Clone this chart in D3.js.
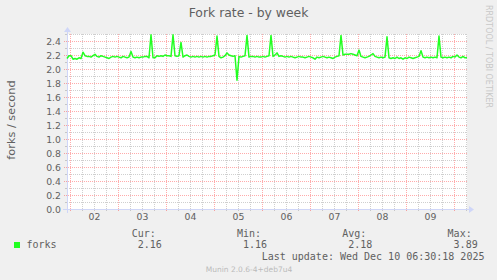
<!DOCTYPE html>
<html>
<head>
<meta charset="utf-8">
<script src="https://cdn.jsdelivr.net/npm/d3@7"></script>
<style>
  body { margin: 0; background: #f0f0f0; }
  svg { display: block; }
</style>
</head>
<body>
<div class="chart"></div>
<script>
// Fork rate - by week (munin / rrdtool look)

const width = 497
const height = 280

// one value per hour, first sample Mon Dec 01 22:30 UTC
const startTime = Date.UTC(2025, 11, 1, 22, 30)
const stepHours = 1
const forks = [
  2.15, 2.19, 2.19, 2.14, 2.15, 2.14, 2.16, 2.15, 2.24, 2.19,
  2.18, 2.18, 2.17, 2.19, 2.21, 2.18, 2.17, 2.19, 2.18, 2.17,
  2.16, 2.15, 2.17, 2.18, 2.17, 2.18, 2.17, 2.16, 2.18, 2.17,
  2.16, 2.17, 2.25, 2.17, 2.16, 2.17, 2.16, 2.17, 2.17, 2.18,
  2.18, 2.16, 2.49, 2.16, 2.16, 2.19, 2.18, 2.19, 2.18, 2.20,
  2.19, 2.19, 2.18, 2.49, 2.19, 2.18, 2.19, 2.38, 2.17, 2.19,
  2.20, 2.18, 2.17, 2.18, 2.17, 2.18, 2.17, 2.18, 2.17, 2.18,
  2.17, 2.18, 2.18, 2.19, 2.20, 2.47, 2.18, 2.16, 2.17, 2.19,
  2.23, 2.20, 2.19, 2.18, 2.19, 1.84, 2.18, 2.17, 2.18, 2.19,
  2.48, 2.17, 2.18, 2.18, 2.17, 2.18, 2.17, 2.17, 2.18, 2.17,
  2.18, 2.19, 2.48, 2.18, 2.20, 2.23, 2.18, 2.19, 2.18, 2.17,
  2.18, 2.17, 2.18, 2.17, 2.16, 2.17, 2.18, 2.17, 2.17, 2.16,
  2.17, 2.18, 2.17, 2.16, 2.14, 2.17, 2.16, 2.17, 2.18, 2.17,
  2.16, 2.17, 2.16, 2.15, 2.17, 2.18, 2.19, 2.48, 2.20, 2.21,
  2.21, 2.21, 2.22, 2.21, 2.20, 2.19, 2.27, 2.18, 2.17, 2.16,
  2.17, 2.18, 2.20, 2.22, 2.18, 2.17, 2.16, 2.17, 2.16, 2.17,
  2.46, 2.16, 2.15, 2.16, 2.15, 2.17, 2.15, 2.16, 2.14, 2.16,
  2.15, 2.17, 2.16, 2.15, 2.16, 2.17, 2.18, 2.26, 2.17, 2.16,
  2.17, 2.16, 2.17, 2.16, 2.17, 2.16, 2.47, 2.17, 2.16, 2.17,
  2.16, 2.17, 2.16, 2.18, 2.17, 2.20, 2.17, 2.16, 2.18, 2.16,
  2.16
]

const yTicks = [0.0, 0.2, 0.4, 0.6, 0.8, 1.0, 1.2, 1.4, 1.6, 1.8, 2.0, 2.2, 2.4]
const statNames = ["Cur:", "Min:", "Avg:", "Max:"]
const statValues = [2.16, 1.16, 2.18, 3.89]
const seriesName = "forks"
const lastUpdate = "Last update: Wed Dec 10 06:30:18 2025"

const hour = 3600 * 1000
const data = forks.map((v, i) => ({ t: new Date(startTime + i * stepHours * hour), v: v }))

const x = d3.scaleUtc()
    .domain([data[0].t, data[data.length - 1].t])
    .range([67, 467])
const y = d3.scaleLinear()
    .domain([0, 2.5])
    .range([209, 34])

const fontColor = "#606060"
const axisColor = "#CFD6F8"
const gridColor = "rgba(128,128,128,0.38)"
const mgridColor = "rgba(255,0,0,0.33)"
const lineColor = "#22ff22"

var svg = d3.select('.chart').append('svg')
    .attr("width", width)
    .attr("height", height)
    .style("font-family", "'DejaVu Sans', sans-serif")

svg.append("rect")
    .attr("width", width)
    .attr("height", height)
    .attr("fill", "#f0f0f0")

// canvas
svg.append("rect")
    .attr("x", x.range()[0])
    .attr("y", y.range()[1])
    .attr("width", x.range()[1] - x.range()[0])
    .attr("height", y.range()[0] - y.range()[1])
    .attr("fill", "#fff")

const grid = svg.append("g").attr("shape-rendering", "crispEdges")

const [x0, x1] = x.range()
const [yb, yt] = y.range()

// minor grid, every 6 hours / every 0.1
const minorX = d3.utcHour.every(6).range(...x.domain()).filter(d => d.getUTCHours() !== 0)
const majorX = d3.utcDay.range(...x.domain())
const minorY = d3.range(1, 26, 2).map(d => d / 10)

grid.selectAll(".vminor")
    .data(minorX)
    .join("line")
    .attr("x1", d => Math.round(x(d)) + 0.5)
    .attr("x2", d => Math.round(x(d)) + 0.5)
    .attr("y1", yt)
    .attr("y2", yb)
    .attr("stroke", gridColor)
    .attr("stroke-dasharray", "1,1")

grid.selectAll(".hminor")
    .data(minorY)
    .join("line")
    .attr("x1", x0)
    .attr("x2", x1)
    .attr("y1", d => Math.round(y(d)) + 0.5)
    .attr("y2", d => Math.round(y(d)) + 0.5)
    .attr("stroke", gridColor)
    .attr("stroke-dasharray", "1,1")

// minor ticks
grid.selectAll(".tminx")
    .data(minorX)
    .join("line")
    .attr("x1", d => Math.round(x(d)) + 0.5)
    .attr("x2", d => Math.round(x(d)) + 0.5)
    .attr("y1", yb)
    .attr("y2", yb + 2)
    .attr("stroke", gridColor)
grid.selectAll(".tminy")
    .data(minorY)
    .join("line")
    .attr("x1", x0 - 2)
    .attr("x2", x0)
    .attr("y1", d => Math.round(y(d)) + 0.5)
    .attr("y2", d => Math.round(y(d)) + 0.5)
    .attr("stroke", gridColor)

// major grid, every day / every 0.2
grid.selectAll(".vmajor")
    .data(majorX)
    .join("line")
    .attr("x1", d => Math.round(x(d)) + 0.5)
    .attr("x2", d => Math.round(x(d)) + 0.5)
    .attr("y1", yt)
    .attr("y2", yb + 3)
    .attr("stroke", mgridColor)
    .attr("stroke-dasharray", "1,1")

grid.selectAll(".hmajor")
    .data(yTicks)
    .join("line")
    .attr("x1", x0 - 3)
    .attr("x2", x1 + 1)
    .attr("y1", d => Math.round(y(d)) + 0.5)
    .attr("y2", d => Math.round(y(d)) + 0.5)
    .attr("stroke", mgridColor)
    .attr("stroke-dasharray", "1,1")

// axes
const axis = svg.append("g")
axis.append("line")
    .attr("x1", x0 - 4).attr("x2", x1 + 4)
    .attr("y1", yb + 0.5).attr("y2", yb + 0.5)
    .attr("stroke", axisColor)
    .attr("shape-rendering", "crispEdges")
axis.append("line")
    .attr("x1", x0 + 0.5).attr("x2", x0 + 0.5)
    .attr("y1", yb + 4).attr("y2", yt - 4)
    .attr("stroke", axisColor)
    .attr("shape-rendering", "crispEdges")
axis.append("path")
    .attr("d", `M${x1 + 2},${yb - 3}L${x1 + 2},${yb + 4}L${x1 + 7},${yb + 0.5}Z`)
    .attr("fill", axisColor)
axis.append("path")
    .attr("d", `M${x0 - 3},${yt - 2}L${x0 + 4},${yt - 2}L${x0 + 0.5},${yt - 7}Z`)
    .attr("fill", axisColor)

// tick labels
svg.append("g")
    .selectAll("text")
    .data(yTicks)
    .join("text")
    .attr("x", x0 - 6)
    .attr("y", d => y(d) + 3.5)
    .attr("text-anchor", "end")
    .attr("font-size", 9.3)
    .attr("fill", fontColor)
    .text(d => d.toFixed(1))

const dayLabels = majorX.map(d => new Date(+d + 12 * hour)).filter(d => d < x.domain()[1])
svg.append("g")
    .selectAll("text")
    .data(dayLabels)
    .join("text")
    .attr("x", d => x(d) + 0.5)
    .attr("y", 220)
    .attr("text-anchor", "middle")
    .attr("font-size", 9.3)
    .attr("fill", fontColor)
    .text(d3.utcFormat("%d"))

// the series
svg.append("path")
    .datum(data)
    .attr("fill", "none")
    .attr("stroke", lineColor)
    .attr("stroke-width", 1.5)
    .attr("stroke-linejoin", "round")
    .attr("d", d3.line().x(d => x(d.t)).y(d => y(d.v)))

// titles
svg.append("text")
    .attr("x", 248.5)
    .attr("y", 17)
    .attr("text-anchor", "middle")
    .attr("font-size", 12.4)
    .attr("fill", fontColor)
    .text("Fork rate - by week")

svg.append("text")
    .attr("transform", "translate(15,120) rotate(-90)")
    .attr("text-anchor", "middle")
    .attr("font-size", 11.3)
    .attr("fill", fontColor)
    .text("forks / second")

svg.append("text")
    .attr("transform", "translate(485.5,5) rotate(90)")
    .attr("font-size", 8)
    .attr("fill", "#c8c8c8")
    .text("RRDTOOL / TOBI OETIKER")

// legend
const mono = "'DejaVu Sans Mono', monospace"
svg.append("rect")
    .attr("x", 14).attr("y", 242)
    .attr("width", 6).attr("height", 6)
    .attr("fill", lineColor)

svg.append("text")
    .attr("x", 26.5).attr("y", 248)
    .attr("font-family", mono).attr("font-size", 10)
    .attr("fill", fontColor)
    .text(seriesName)

const stats = svg.append("g")
    .attr("font-family", mono)
    .attr("font-size", 10)
    .attr("fill", fontColor)

stats.selectAll(".name")
    .data(statNames)
    .join("text")
    .attr("x", (d, i) => 131.7 + i * 105.3)
    .attr("y", 237)
    .text(d => d)

stats.selectAll(".val")
    .data(statValues)
    .join("text")
    .attr("x", (d, i) => 137.7 + i * 105.3)
    .attr("y", 248)
    .text(d => d.toFixed(2))

svg.append("text")
    .attr("x", 261.7).attr("y", 260)
    .attr("font-family", mono).attr("font-size", 10)
    .attr("fill", fontColor)
    .text(lastUpdate)

svg.append("text")
    .attr("x", 249).attr("y", 272)
    .attr("text-anchor", "middle")
    .attr("font-size", 7.5)
    .attr("fill", "#bbb")
    .text("Munin 2.0.6-4+deb7u4")
</script>
</body>
</html>
